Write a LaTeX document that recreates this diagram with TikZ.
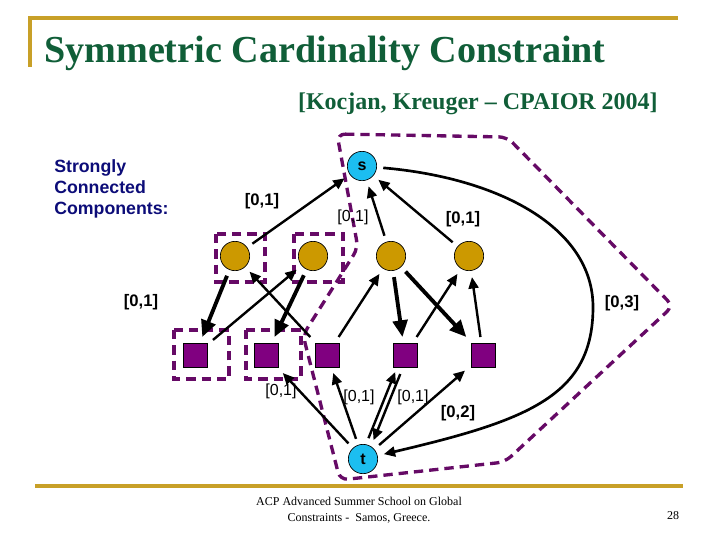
\documentclass[tikz,border=0pt]{standalone}
\usepackage{fontspec}
\setmainfont{Liberation Serif}
\setsansfont{Liberation Sans}
\usetikzlibrary{arrows.meta}
\definecolor{ttlgreen}{RGB}{16,94,56}
\definecolor{rulegold}{RGB}{200,160,40}
\definecolor{sccnavy}{RGB}{12,12,120}
\definecolor{sccpurple}{RGB}{102,10,102}
\definecolor{sqpurple}{RGB}{128,0,128}
\definecolor{vgold}{RGB}{204,153,0}
\definecolor{stcyan}{RGB}{28,190,240}
\tikzset{
  vnode/.style={circle, draw=black, line width=0.5pt, fill=vgold, minimum size=22pt, inner sep=0pt, outer sep=5pt},
  sqnode/.style={rectangle, draw=black, line width=0.5pt, fill=sqpurple, minimum size=18pt, inner sep=0pt, outer sep=4.5pt},
  stnode/.style={circle, draw=black, line width=0.5pt, fill=stcyan, minimum size=22pt, inner sep=0pt, outer sep=5pt, font=\sffamily\bfseries\fontsize{12}{12}\selectfont},
  thinarr/.style={line width=1.8pt, -{Triangle[length=8.5pt,width=7.5pt]}},
  thickarr/.style={line width=2.9pt, -{Triangle[length=12.5pt,width=11pt]}},
  sccbox/.style={draw=sccpurple, line width=2.5pt, dash pattern=on 7pt off 4.5pt},
  boldlbl/.style={font=\sffamily\bfseries\fontsize{12.5}{14}\selectfont, inner sep=0pt},
  lbl/.style={font=\sffamily\fontsize{12}{14}\selectfont, inner sep=0pt},
  goldrule/.style={draw=rulegold, line width=2.3pt}
}
\begin{document}
\begin{tikzpicture}[x=0.75pt,y=-0.75pt]
\useasboundingbox (0,0) rectangle (720,540);
% header
\draw[goldrule] (678,18) -- (30,18) -- (30,67);
\node[anchor=base west, inner sep=0pt, text=ttlgreen, font=\bfseries\fontsize{28.6}{32}\selectfont] (title) at (44,62) {Symmetric Cardinality Constraint};
\node[anchor=base east, inner sep=0pt, text=ttlgreen, font=\bfseries\fontsize{18}{20}\selectfont] (cite) at (658,109) {[Kocjan, Kreuger -- CPAIOR 2004]};
\node[anchor=west, inner sep=0pt, align=left, text=sccnavy, font=\sffamily\bfseries\fontsize{13.3}{15.8}\selectfont] (scclabel) at (54,189) {Strongly\\Connected\\Components:};
% SCC outlines
\draw[sccbox, rounded corners=6pt] (337,134) -- (507,137) -- (673,306) -- (505,462) -- (340,480) -- (303,335) -- (358,248) -- cycle;
\draw[sccbox] (216,234) rectangle (265,282);
\draw[sccbox] (294,234) rectangle (343,282);
\draw[sccbox] (174,330) rectangle (229,379);
\draw[sccbox] (246,330) rectangle (301,379);
% nodes
\node[stnode] (s) at (362,166) {s};
\node[stnode] (t) at (363,459) {t};
\node[vnode] (c1) at (235,256) {};
\node[vnode] (c2) at (313,256) {};
\node[vnode] (c3) at (391,256) {};
\node[vnode] (c4) at (469,256) {};
\node[sqnode] (q1) at (195,355) {};
\node[sqnode] (q2) at (266,355) {};
\node[sqnode] (q3) at (327,355) {};
\node[sqnode] (q4) at (405,355) {};
\node[sqnode] (q5) at (483,355) {};
\coordinate (c03) at (593,307);
% edges to s
\draw[thinarr] (c1) -- (s);
\draw[thinarr] (c3) -- (s);
\draw[thinarr] (c4) -- (s);
% circle / square edges
\draw[thickarr] (c1) -- (q1);
\draw[thickarr] (c2) -- (q2);
\draw[thickarr] (c3) -- (q4);
\draw[thickarr] (c3) -- (q5);
\draw[thinarr] (q1) -- (c2);
\draw[thinarr] (q3) -- (c1);
\draw[thinarr] (q3) -- (c3);
\draw[thinarr] (q4) -- (c4);
\draw[thinarr] (q5) -- (c4);
% edges from t
\draw[thinarr] (t) -- (q2);
\draw[thinarr] (t) -- (q3);
\draw[thinarr, transform canvas={shift={(-1.9pt,0.75pt)}}] (t) -- (q4);
\draw[thinarr, transform canvas={shift={(1.9pt,-0.75pt)}}] (q4) -- (t);
\draw[thinarr] (t) -- (q5);
% s -> t return arc
\draw[line width=2pt, -{Triangle[length=8.5pt,width=7.5pt]}] (s) .. controls (500,178) and (593,228) .. (c03) .. controls (593,395) and (530,420) .. (t);
% labels
\node[boldlbl] (l1) at (262,201) {[0,1]};
\node[lbl] (l2) at (353,217) {[0,1]};
\node[boldlbl] (l3) at (463,219) {[0,1]};
\node[boldlbl] (l4) at (141,302) {[0,1]};
\node[boldlbl] (l5) at (622,303) {[0,3]};
\node[lbl] (l6) at (281,391) {[0,1]};
\node[lbl] (l7) at (359,397) {[0,1]};
\node[lbl] (l8) at (413,397) {[0,1]};
\node[boldlbl] (l9) at (458,413) {[0,2]};
% footer
\draw[goldrule] (35,486) -- (683,486);
\node[align=center, inner sep=0pt, font=\fontsize{9}{12}\selectfont] (foot) at (359,510) {ACP Advanced Summer School on Global\\Constraints -\ \ Samos, Greece.};
\node[inner sep=0pt, font=\fontsize{9}{12}\selectfont] (page) at (673,516) {28};
\end{tikzpicture}
\end{document}
